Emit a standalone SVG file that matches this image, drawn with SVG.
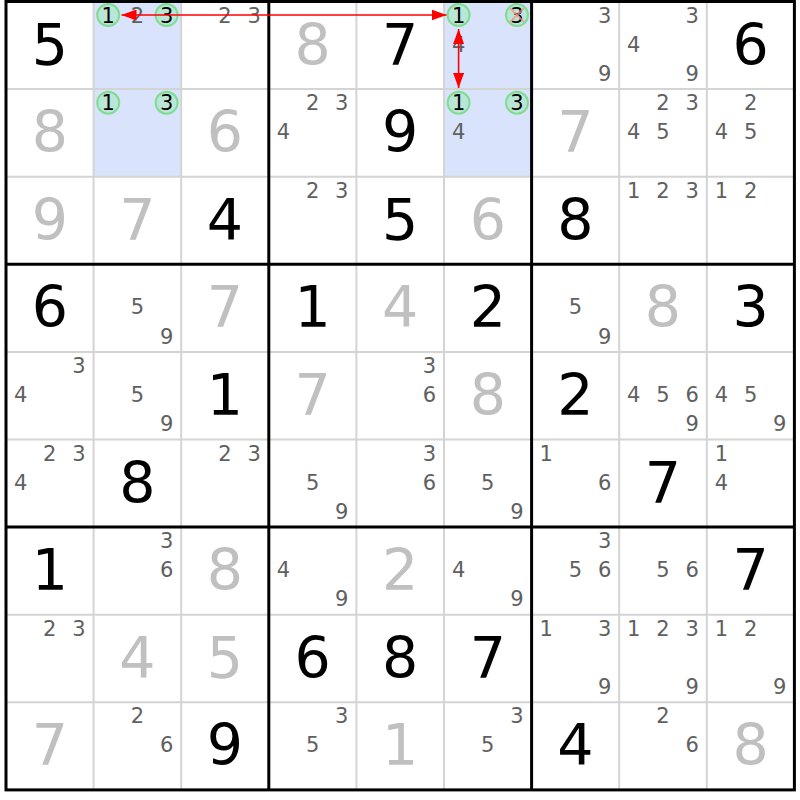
<svg xmlns="http://www.w3.org/2000/svg" width="800" height="800" viewBox="0 0 800 800">
<defs>
<style>
text{font-family:"DejaVu Sans","Verdana",sans-serif;text-anchor:middle}
.g{font-size:57px;fill:#000}
.s{font-size:57px;fill:#c0c0c0}
.c{font-size:21px;fill:#606060}
.k{font-size:21px;fill:#000}
.hl{fill:#d9e3fb}
.ring{fill:#b9e6d6;stroke:#80dc90;stroke-width:2}
.thin{stroke:#d4d4d4;stroke-width:2}
.thick{stroke:#000;stroke-width:3}
.arr{stroke:#f00;stroke-width:1.6;fill:none;marker-start:url(#ah);marker-end:url(#ah)}
.x{stroke:#ff8a8a;stroke-width:2;opacity:0.75}
</style>
<marker id="ah" viewBox="0 0 15 11" refX="15" refY="5.5" markerUnits="userSpaceOnUse" markerWidth="15" markerHeight="11" orient="auto-start-reverse">
<path d="M0,0 L15,5.5 L0,11 z" fill="#f00"/>
</marker>
</defs>
<rect width="800" height="800" fill="#fff"/>
<g id="cells">
<!-- Row 0 -->
<g id="r0c0" transform="translate(6,1.5)"><text class="g" x="43.8" y="63">5</text></g>
<g id="r0c1" transform="translate(93.6,1.5)"><rect class="hl" width="87.6" height="87.6"/><circle class="ring" cx="14.6" cy="13.6" r="11"/><circle class="ring" cx="73" cy="13.6" r="11"/><text class="k" x="14.6" y="21">1</text><text class="c" x="43.8" y="21">2</text><text class="k" x="73" y="21">3</text></g>
<g id="r0c2" transform="translate(181.2,1.5)"><text class="c" x="43.8" y="21">2</text><text class="c" x="73" y="21">3</text></g>
<g id="r0c3" transform="translate(268.8,1.5)"><text class="s" x="43.8" y="63">8</text></g>
<g id="r0c4" transform="translate(356.4,1.5)"><text class="g" x="43.8" y="63">7</text></g>
<g id="r0c5" transform="translate(444,1.5)"><rect class="hl" width="87.6" height="87.6"/><circle class="ring" cx="14.6" cy="13.6" r="11"/><circle class="ring" cx="73" cy="13.6" r="11"/><text class="k" x="14.6" y="21">1</text><text class="k" x="73" y="21">3</text><text class="c" x="14.6" y="50.2">4</text><line class="x" x1="66" y1="6.6" x2="80" y2="20.6"/><line class="x" x1="80" y1="6.6" x2="66" y2="20.6"/></g>
<g id="r0c6" transform="translate(531.6,1.5)"><text class="c" x="73" y="21">3</text><text class="c" x="73" y="79.4">9</text></g>
<g id="r0c7" transform="translate(619.2,1.5)"><text class="c" x="73" y="21">3</text><text class="c" x="14.6" y="50.2">4</text><text class="c" x="73" y="79.4">9</text></g>
<g id="r0c8" transform="translate(706.8,1.5)"><text class="g" x="43.8" y="63">6</text></g>
<!-- Row 1 -->
<g id="r1c0" transform="translate(6,89.1)"><text class="s" x="43.8" y="63">8</text></g>
<g id="r1c1" transform="translate(93.6,89.1)"><rect class="hl" width="87.6" height="87.6"/><circle class="ring" cx="14.6" cy="13.6" r="11"/><circle class="ring" cx="73" cy="13.6" r="11"/><text class="k" x="14.6" y="21">1</text><text class="k" x="73" y="21">3</text></g>
<g id="r1c2" transform="translate(181.2,89.1)"><text class="s" x="43.8" y="63">6</text></g>
<g id="r1c3" transform="translate(268.8,89.1)"><text class="c" x="43.8" y="21">2</text><text class="c" x="73" y="21">3</text><text class="c" x="14.6" y="50.2">4</text></g>
<g id="r1c4" transform="translate(356.4,89.1)"><text class="g" x="43.8" y="63">9</text></g>
<g id="r1c5" transform="translate(444,89.1)"><rect class="hl" width="87.6" height="87.6"/><circle class="ring" cx="14.6" cy="13.6" r="11"/><circle class="ring" cx="73" cy="13.6" r="11"/><text class="k" x="14.6" y="21">1</text><text class="k" x="73" y="21">3</text><text class="c" x="14.6" y="50.2">4</text></g>
<g id="r1c6" transform="translate(531.6,89.1)"><text class="s" x="43.8" y="63">7</text></g>
<g id="r1c7" transform="translate(619.2,89.1)"><text class="c" x="43.8" y="21">2</text><text class="c" x="73" y="21">3</text><text class="c" x="14.6" y="50.2">4</text><text class="c" x="43.8" y="50.2">5</text></g>
<g id="r1c8" transform="translate(706.8,89.1)"><text class="c" x="43.8" y="21">2</text><text class="c" x="14.6" y="50.2">4</text><text class="c" x="43.8" y="50.2">5</text></g>
<!-- Row 2 -->
<g id="r2c0" transform="translate(6,176.7)"><text class="s" x="43.8" y="63">9</text></g>
<g id="r2c1" transform="translate(93.6,176.7)"><text class="s" x="43.8" y="63">7</text></g>
<g id="r2c2" transform="translate(181.2,176.7)"><text class="g" x="43.8" y="63">4</text></g>
<g id="r2c3" transform="translate(268.8,176.7)"><text class="c" x="43.8" y="21">2</text><text class="c" x="73" y="21">3</text></g>
<g id="r2c4" transform="translate(356.4,176.7)"><text class="g" x="43.8" y="63">5</text></g>
<g id="r2c5" transform="translate(444,176.7)"><text class="s" x="43.8" y="63">6</text></g>
<g id="r2c6" transform="translate(531.6,176.7)"><text class="g" x="43.8" y="63">8</text></g>
<g id="r2c7" transform="translate(619.2,176.7)"><text class="c" x="14.6" y="21">1</text><text class="c" x="43.8" y="21">2</text><text class="c" x="73" y="21">3</text></g>
<g id="r2c8" transform="translate(706.8,176.7)"><text class="c" x="14.6" y="21">1</text><text class="c" x="43.8" y="21">2</text></g>
<!-- Row 3 -->
<g id="r3c0" transform="translate(6,264.3)"><text class="g" x="43.8" y="63">6</text></g>
<g id="r3c1" transform="translate(93.6,264.3)"><text class="c" x="43.8" y="50.2">5</text><text class="c" x="73" y="79.4">9</text></g>
<g id="r3c2" transform="translate(181.2,264.3)"><text class="s" x="43.8" y="63">7</text></g>
<g id="r3c3" transform="translate(268.8,264.3)"><text class="g" x="43.8" y="63">1</text></g>
<g id="r3c4" transform="translate(356.4,264.3)"><text class="s" x="43.8" y="63">4</text></g>
<g id="r3c5" transform="translate(444,264.3)"><text class="g" x="43.8" y="63">2</text></g>
<g id="r3c6" transform="translate(531.6,264.3)"><text class="c" x="43.8" y="50.2">5</text><text class="c" x="73" y="79.4">9</text></g>
<g id="r3c7" transform="translate(619.2,264.3)"><text class="s" x="43.8" y="63">8</text></g>
<g id="r3c8" transform="translate(706.8,264.3)"><text class="g" x="43.8" y="63">3</text></g>
<!-- Row 4 -->
<g id="r4c0" transform="translate(6,351.9)"><text class="c" x="73" y="21">3</text><text class="c" x="14.6" y="50.2">4</text></g>
<g id="r4c1" transform="translate(93.6,351.9)"><text class="c" x="43.8" y="50.2">5</text><text class="c" x="73" y="79.4">9</text></g>
<g id="r4c2" transform="translate(181.2,351.9)"><text class="g" x="43.8" y="63">1</text></g>
<g id="r4c3" transform="translate(268.8,351.9)"><text class="s" x="43.8" y="63">7</text></g>
<g id="r4c4" transform="translate(356.4,351.9)"><text class="c" x="73" y="21">3</text><text class="c" x="73" y="50.2">6</text></g>
<g id="r4c5" transform="translate(444,351.9)"><text class="s" x="43.8" y="63">8</text></g>
<g id="r4c6" transform="translate(531.6,351.9)"><text class="g" x="43.8" y="63">2</text></g>
<g id="r4c7" transform="translate(619.2,351.9)"><text class="c" x="14.6" y="50.2">4</text><text class="c" x="43.8" y="50.2">5</text><text class="c" x="73" y="50.2">6</text><text class="c" x="73" y="79.4">9</text></g>
<g id="r4c8" transform="translate(706.8,351.9)"><text class="c" x="14.6" y="50.2">4</text><text class="c" x="43.8" y="50.2">5</text><text class="c" x="73" y="79.4">9</text></g>
<!-- Row 5 -->
<g id="r5c0" transform="translate(6,439.5)"><text class="c" x="43.8" y="21">2</text><text class="c" x="73" y="21">3</text><text class="c" x="14.6" y="50.2">4</text></g>
<g id="r5c1" transform="translate(93.6,439.5)"><text class="g" x="43.8" y="63">8</text></g>
<g id="r5c2" transform="translate(181.2,439.5)"><text class="c" x="43.8" y="21">2</text><text class="c" x="73" y="21">3</text></g>
<g id="r5c3" transform="translate(268.8,439.5)"><text class="c" x="43.8" y="50.2">5</text><text class="c" x="73" y="79.4">9</text></g>
<g id="r5c4" transform="translate(356.4,439.5)"><text class="c" x="73" y="21">3</text><text class="c" x="73" y="50.2">6</text></g>
<g id="r5c5" transform="translate(444,439.5)"><text class="c" x="43.8" y="50.2">5</text><text class="c" x="73" y="79.4">9</text></g>
<g id="r5c6" transform="translate(531.6,439.5)"><text class="c" x="14.6" y="21">1</text><text class="c" x="73" y="50.2">6</text></g>
<g id="r5c7" transform="translate(619.2,439.5)"><text class="g" x="43.8" y="63">7</text></g>
<g id="r5c8" transform="translate(706.8,439.5)"><text class="c" x="14.6" y="21">1</text><text class="c" x="14.6" y="50.2">4</text></g>
<!-- Row 6 -->
<g id="r6c0" transform="translate(6,527.1)"><text class="g" x="43.8" y="63">1</text></g>
<g id="r6c1" transform="translate(93.6,527.1)"><text class="c" x="73" y="21">3</text><text class="c" x="73" y="50.2">6</text></g>
<g id="r6c2" transform="translate(181.2,527.1)"><text class="s" x="43.8" y="63">8</text></g>
<g id="r6c3" transform="translate(268.8,527.1)"><text class="c" x="14.6" y="50.2">4</text><text class="c" x="73" y="79.4">9</text></g>
<g id="r6c4" transform="translate(356.4,527.1)"><text class="s" x="43.8" y="63">2</text></g>
<g id="r6c5" transform="translate(444,527.1)"><text class="c" x="14.6" y="50.2">4</text><text class="c" x="73" y="79.4">9</text></g>
<g id="r6c6" transform="translate(531.6,527.1)"><text class="c" x="73" y="21">3</text><text class="c" x="43.8" y="50.2">5</text><text class="c" x="73" y="50.2">6</text></g>
<g id="r6c7" transform="translate(619.2,527.1)"><text class="c" x="43.8" y="50.2">5</text><text class="c" x="73" y="50.2">6</text></g>
<g id="r6c8" transform="translate(706.8,527.1)"><text class="g" x="43.8" y="63">7</text></g>
<!-- Row 7 -->
<g id="r7c0" transform="translate(6,614.7)"><text class="c" x="43.8" y="21">2</text><text class="c" x="73" y="21">3</text></g>
<g id="r7c1" transform="translate(93.6,614.7)"><text class="s" x="43.8" y="63">4</text></g>
<g id="r7c2" transform="translate(181.2,614.7)"><text class="s" x="43.8" y="63">5</text></g>
<g id="r7c3" transform="translate(268.8,614.7)"><text class="g" x="43.8" y="63">6</text></g>
<g id="r7c4" transform="translate(356.4,614.7)"><text class="g" x="43.8" y="63">8</text></g>
<g id="r7c5" transform="translate(444,614.7)"><text class="g" x="43.8" y="63">7</text></g>
<g id="r7c6" transform="translate(531.6,614.7)"><text class="c" x="14.6" y="21">1</text><text class="c" x="73" y="21">3</text><text class="c" x="73" y="79.4">9</text></g>
<g id="r7c7" transform="translate(619.2,614.7)"><text class="c" x="14.6" y="21">1</text><text class="c" x="43.8" y="21">2</text><text class="c" x="73" y="21">3</text><text class="c" x="73" y="79.4">9</text></g>
<g id="r7c8" transform="translate(706.8,614.7)"><text class="c" x="14.6" y="21">1</text><text class="c" x="43.8" y="21">2</text><text class="c" x="73" y="79.4">9</text></g>
<!-- Row 8 -->
<g id="r8c0" transform="translate(6,702.3)"><text class="s" x="43.8" y="63">7</text></g>
<g id="r8c1" transform="translate(93.6,702.3)"><text class="c" x="43.8" y="21">2</text><text class="c" x="73" y="50.2">6</text></g>
<g id="r8c2" transform="translate(181.2,702.3)"><text class="g" x="43.8" y="63">9</text></g>
<g id="r8c3" transform="translate(268.8,702.3)"><text class="c" x="73" y="21">3</text><text class="c" x="43.8" y="50.2">5</text></g>
<g id="r8c4" transform="translate(356.4,702.3)"><text class="s" x="43.8" y="63">1</text></g>
<g id="r8c5" transform="translate(444,702.3)"><text class="c" x="73" y="21">3</text><text class="c" x="43.8" y="50.2">5</text></g>
<g id="r8c6" transform="translate(531.6,702.3)"><text class="g" x="43.8" y="63">4</text></g>
<g id="r8c7" transform="translate(619.2,702.3)"><text class="c" x="43.8" y="21">2</text><text class="c" x="73" y="50.2">6</text></g>
<g id="r8c8" transform="translate(706.8,702.3)"><text class="s" x="43.8" y="63">8</text></g>
</g>
<g id="grid">
<g class="thin">
<line x1="93.6" y1="1.5" x2="93.6" y2="789.9"/><line x1="181.2" y1="1.5" x2="181.2" y2="789.9"/>
<line x1="356.4" y1="1.5" x2="356.4" y2="789.9"/><line x1="444" y1="1.5" x2="444" y2="789.9"/>
<line x1="619.2" y1="1.5" x2="619.2" y2="789.9"/><line x1="706.8" y1="1.5" x2="706.8" y2="789.9"/>
<line x1="6" y1="89.1" x2="794.4" y2="89.1"/><line x1="6" y1="176.7" x2="794.4" y2="176.7"/>
<line x1="6" y1="351.9" x2="794.4" y2="351.9"/><line x1="6" y1="439.5" x2="794.4" y2="439.5"/>
<line x1="6" y1="614.7" x2="794.4" y2="614.7"/><line x1="6" y1="702.3" x2="794.4" y2="702.3"/>
</g>
<g class="thick">
<line x1="268.8" y1="1.5" x2="268.8" y2="789.9"/><line x1="531.6" y1="1.5" x2="531.6" y2="789.9"/>
<line x1="6" y1="264.3" x2="794.4" y2="264.3"/><line x1="6" y1="527.1" x2="794.4" y2="527.1"/>
<rect x="6" y="1.5" width="788.4" height="788.4" fill="none"/>
</g>
</g>
<g id="connectors">
<line class="arr" x1="446.5" y1="15" x2="121.5" y2="15"/>
<line class="arr" x1="458.6" y1="29" x2="458.6" y2="88"/>
</g>
</svg>
